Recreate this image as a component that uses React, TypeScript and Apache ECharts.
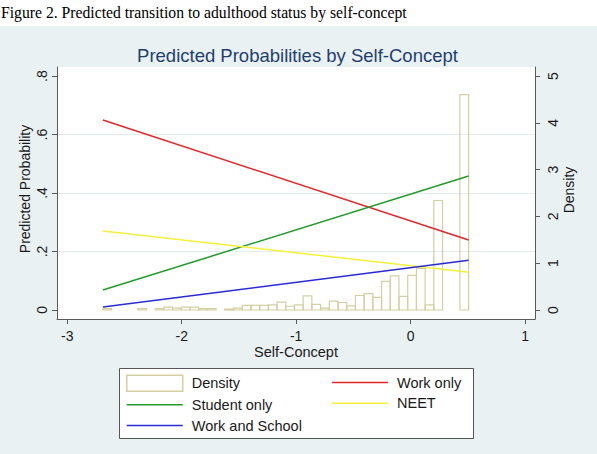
import React, { useEffect, useRef } from "react";
import * as echarts from "echarts";

// ---------- data ----------
const lineX = [-2.689, 0.507];
const workOnly = [0.65, 0.239];
const studentOnly = [0.068, 0.458];
const neet = [0.27, 0.129];
const workAndSchool = [0.01, 0.17];

const densityBinCenters = [
  -2.651, -2.575, -2.499, -2.423, -2.347, -2.27, -2.194, -2.118, -2.042, -1.966,
  -1.89, -1.814, -1.738, -1.662, -1.586, -1.51, -1.433, -1.357, -1.281, -1.205,
  -1.129, -1.053, -0.977, -0.901, -0.825, -0.749, -0.672, -0.596, -0.52, -0.444,
  -0.368, -0.292, -0.216, -0.14, -0.064, 0.013, 0.089, 0.165, 0.241, 0.317,
  0.393, 0.469,
];
const densityValues = [
  0.03, 0, 0, 0, 0.03, 0, 0.03, 0.06, 0.04, 0.06,
  0.06, 0.03, 0.03, 0, 0.02, 0.04, 0.1, 0.1, 0.1, 0.11,
  0.17, 0.08, 0.11, 0.3, 0.12, 0.04, 0.19, 0.16, 0.09, 0.31,
  0.35, 0.27, 0.61, 0.73, 0.29, 0.74, 0.89, 0.11, 2.34, 0,
  0, 4.6,
];
const xTicks = [-3, -2, -1, 0, 1];
const probTicks = [0, 0.2, 0.4, 0.6, 0.8];
const densityTicks = [0, 1, 2, 3, 4, 5];
const gridValues = [0.2, 0.4, 0.6];

// ---------- styles ----------
const BIN_W = 0.0761;
const FONT = '"Liberation Sans", Arial, Helvetica, sans-serif';
const AXIS = "#5a5a5a";
const KHAKI = "#d4cfa0";
const RED = "#e3262a";
const GREEN = "#239a2a";
const YELLOW = "#f5f03a";
const BLUE = "#2a2ad6";
const PANEL = "#eaf1f3";
const LINE_ICON = "path://M0,0 L56,0 L56,1.5 L0,1.5 Z";

const pairs = (ys: number[]) => lineX.map((x, i) => [x, ys[i]]);

export default function App() {
  const ref = useRef<HTMLDivElement>(null);
  useEffect(() => {
    if (!ref.current) return;
    const chart = echarts.init(ref.current, null, { renderer: "svg" });
    const lineSeries = (name: string, ys: number[], color: string, extra: any = {}) => ({
      type: "line",
      name,
      data: pairs(ys),
      xAxisIndex: 0,
      yAxisIndex: 0,
      symbol: "none",
      lineStyle: { color, width: 1.5 },
      itemStyle: { color },
      z: 3,
      ...extra,
    });
    const legendText = {
      fontSize: 14.5,
      fontFamily: FONT,
      color: "#1a1a1a",
      padding: [0, 0, 0, 4],
      lineHeight: 16,
    };
    const lineItem = (name: string) => ({ name, icon: LINE_ICON });
    const legendBase = {
      orient: "vertical",
      top: 374.5,
      padding: 0,
      itemWidth: 56,
      itemHeight: 16,
      itemGap: 4.8,
      selectedMode: false,
      symbolKeepAspect: true,
      textStyle: legendText,
      z: 10,
    };
    chart.setOption({
      animation: false,
      backgroundColor: PANEL,
      textStyle: { fontFamily: FONT },
      grid: {
        left: 57,
        top: 67,
        right: 62,
        bottom: 135,
        show: true,
        backgroundColor: "#ffffff",
        borderWidth: 0,
      },
      xAxis: {
        type: "value",
        min: -3.09,
        max: 1.087,
        axisLine: { show: true, onZero: false, lineStyle: { color: AXIS, width: 1 } },
        axisTick: { show: true, length: 5, customValues: xTicks, lineStyle: { color: AXIS } },
        axisLabel: {
          customValues: xTicks,
          fontSize: 14,
          color: "#1a1a1a",
          margin: 10,
          fontFamily: FONT,
          formatter: (v: number) => String(v),
        },
        splitLine: { show: false },
      },
      yAxis: [
        {
          type: "value",
          position: "left",
          min: -0.031,
          max: 0.831,
          axisLine: { show: true, onZero: false, lineStyle: { color: AXIS, width: 1 } },
          axisTick: { show: true, length: 5, customValues: probTicks, lineStyle: { color: AXIS } },
          axisLabel: {
            customValues: probTicks,
            rotate: 90,
            fontSize: 14,
            color: "#1a1a1a",
            margin: 8,
            fontFamily: FONT,
            formatter: (v: number) => (v === 0 ? "0" : String(+v.toFixed(1)).replace(/^0/, "")),
          },
          splitLine: { show: false },
        },
        {
          type: "value",
          position: "right",
          min: -0.192,
          max: 5.192,
          axisLine: { show: true, onZero: false, lineStyle: { color: AXIS, width: 1 } },
          axisTick: { show: true, length: 5, customValues: densityTicks, lineStyle: { color: AXIS } },
          axisLabel: {
            customValues: densityTicks,
            rotate: 90,
            fontSize: 14,
            color: "#1a1a1a",
            margin: 11,
            fontFamily: FONT,
            formatter: (v: number) => String(v),
          },
          splitLine: { show: false },
        },
      ],
      legend: [
        {
          ...legendBase,
          left: 126,
          data: [
            {
              name: "Density",
              icon: "rect",
              itemStyle: { color: "#ffffff", borderColor: KHAKI, borderWidth: 1.5 },
            },
            lineItem("Student only"),
            lineItem("Work and School"),
          ],
        },
        {
          ...legendBase,
          left: 332,
          data: [lineItem("Work only"), lineItem("NEET")],
        },
      ],
      graphic: [
        { type: "rect", shape: { x: 0, y: 0, width: 597, height: 26 }, style: { fill: "#ffffff" }, z: 0 },
        {
          type: "text",
          x: 1,
          y: 12,
          style: {
            text: "Figure 2. Predicted transition to adulthood status by self-concept",
            font: '15.7px "Liberation Serif", "Times New Roman", serif',
            fill: "#000000",
            textVerticalAlign: "middle",
          },
          z: 1,
        },
        {
          type: "text",
          x: 297.5,
          y: 55,
          style: {
            text: "Predicted Probabilities by Self-Concept",
            font: `18.5px ${FONT}`,
            fill: "#1e3f6e",
            textAlign: "center",
            textVerticalAlign: "middle",
          },
          z: 1,
        },
        {
          type: "text",
          x: 25,
          y: 189,
          rotation: Math.PI / 2,
          style: {
            text: "Predicted Probability",
            font: `14px ${FONT}`,
            fill: "#1a1a1a",
            textAlign: "center",
            textVerticalAlign: "middle",
          },
          z: 1,
        },
        {
          type: "text",
          x: 569,
          y: 190,
          rotation: Math.PI / 2,
          style: {
            text: "Density",
            font: `14px ${FONT}`,
            fill: "#1a1a1a",
            textAlign: "center",
            textVerticalAlign: "middle",
          },
          z: 1,
        },
        {
          type: "text",
          x: 296,
          y: 352,
          style: {
            text: "Self-Concept",
            font: `14.5px ${FONT}`,
            fill: "#1a1a1a",
            textAlign: "center",
            textVerticalAlign: "middle",
          },
          z: 1,
        },
        {
          type: "rect",
          shape: { x: 119.5, y: 368.5, width: 354, height: 70 },
          style: { fill: "#ffffff", stroke: "#555555", lineWidth: 1 },
          z: 1,
        },
      ],
      series: [
        {
          type: "custom",
          name: "Density",
          coordinateSystem: "cartesian2d",
          xAxisIndex: 0,
          yAxisIndex: 1,
          data: densityBinCenters.map((x, i) => [x, densityValues[i]]),
          encode: { x: 0, y: 1 },
          itemStyle: { color: "#ffffff", borderColor: KHAKI },
          z: 1,
          renderItem: (params: any, api: any) => {
            const x = api.value(0);
            const h = api.value(1);
            if (!(h > 0)) return null;
            const p0 = api.coord([x - BIN_W / 2, 0]);
            const p1 = api.coord([x + BIN_W / 2, h]);
            return {
              type: "rect",
              shape: { x: p0[0], y: p1[1], width: p1[0] - p0[0], height: p0[1] - p1[1] },
              style: { fill: "none", stroke: KHAKI, lineWidth: 1.2 },
            };
          },
        },
        lineSeries("Work only", workOnly, RED, {
          markLine: {
            silent: true,
            symbol: "none",
            label: { show: false },
            lineStyle: { color: "#e4ecef", type: "solid", width: 1 },
            data: gridValues.map((v) => ({ yAxis: v })),
            z: 0,
          },
        }),
        lineSeries("Student only", studentOnly, GREEN),
        lineSeries("NEET", neet, YELLOW),
        lineSeries("Work and School", workAndSchool, BLUE),
      ],
    });
    return () => chart.dispose();
  }, []);
  return (
    <div
      ref={ref}
      style={{ position: "absolute", left: 0, top: 0, width: 597, height: 454 }}
    />
  );
}
